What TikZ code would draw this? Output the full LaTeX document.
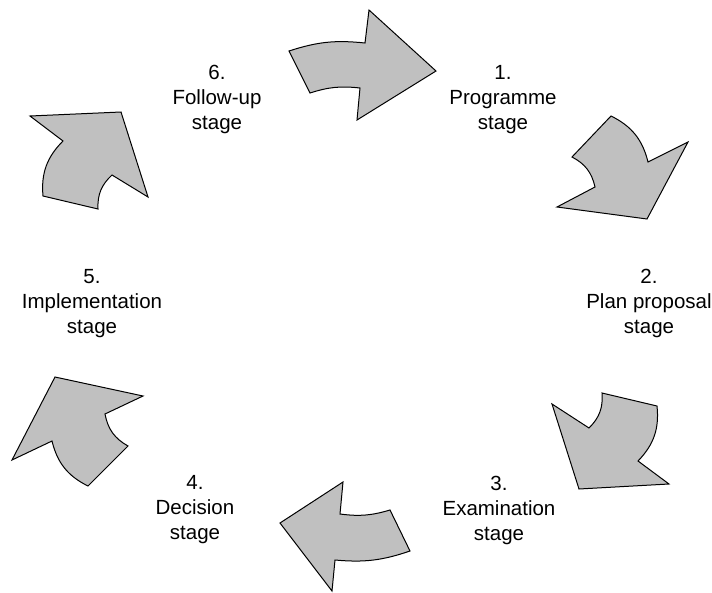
\documentclass[tikz,border=0pt]{standalone}
\usepackage{fontspec}
\setmainfont{Liberation Sans}
\definecolor{arrowgray}{RGB}{192,192,192}
\begin{document}
\begin{tikzpicture}[x=1pt,y=-1pt,
  arrowshape/.style={draw=black, line width=1pt, fill=arrowgray, line join=miter},
  stagelabel/.style={align=center, font=\fontsize{20.5}{25}\selectfont, inner sep=0pt}]
\useasboundingbox (0,0) rectangle (712,592);
% arrow 1 (top)
\draw[arrowshape] (289,51) to[bend left=12] (365,43) -- (369,10) -- (436,71) -- (357,120) -- (360,88) to[bend right=12] (310,93) -- cycle;
% arrow 2 (upper right)
\draw[arrowshape] (611,116) to[bend left=25] (648,162) -- (688,142) -- (647,219) -- (557,207) -- (595,187) to[bend right=25] (572,157) -- cycle;
% arrow 3 (lower right)
\draw[arrowshape] (657,406) to[bend left=25] (638,461) -- (669,484) -- (579,489) -- (552,404) -- (589,428) to[bend right=25] (602,393) -- cycle;
% arrow 4 (bottom)
\draw[arrowshape] (410,551) to[bend left=12] (335,560) -- (332,591) -- (280,523) -- (343,482) -- (340,514) to[bend right=12] (390,510) -- cycle;
% arrow 5 (lower left)
\draw[arrowshape] (88,486) to[bend left=25] (52,441) -- (12,460) -- (55,377) -- (143,396) -- (105,414) to[bend right=25] (128,446) -- cycle;
% arrow 6 (upper left)
\draw[arrowshape] (43,196) to[bend left=25] (63,141) -- (30,116) -- (121,112) -- (148,197) -- (112,175) to[bend right=25] (98,209) -- cycle;
% labels
\node[stagelabel] (s1) at (503,100) {1.\\Programme\\stage};
\node[stagelabel] (s2) at (649,303) {2.\\Plan proposal\\stage};
\node[stagelabel] (s3) at (499,510) {3.\\Examination\\stage};
\node[stagelabel] (s4) at (195,510) {4.\\Decision\\stage};
\node[stagelabel] (s5) at (92,304) {5.\\Implementation\\stage};
\node[stagelabel] (s6) at (217,99) {6.\\Follow-up\\stage};
\end{tikzpicture}
\end{document}
